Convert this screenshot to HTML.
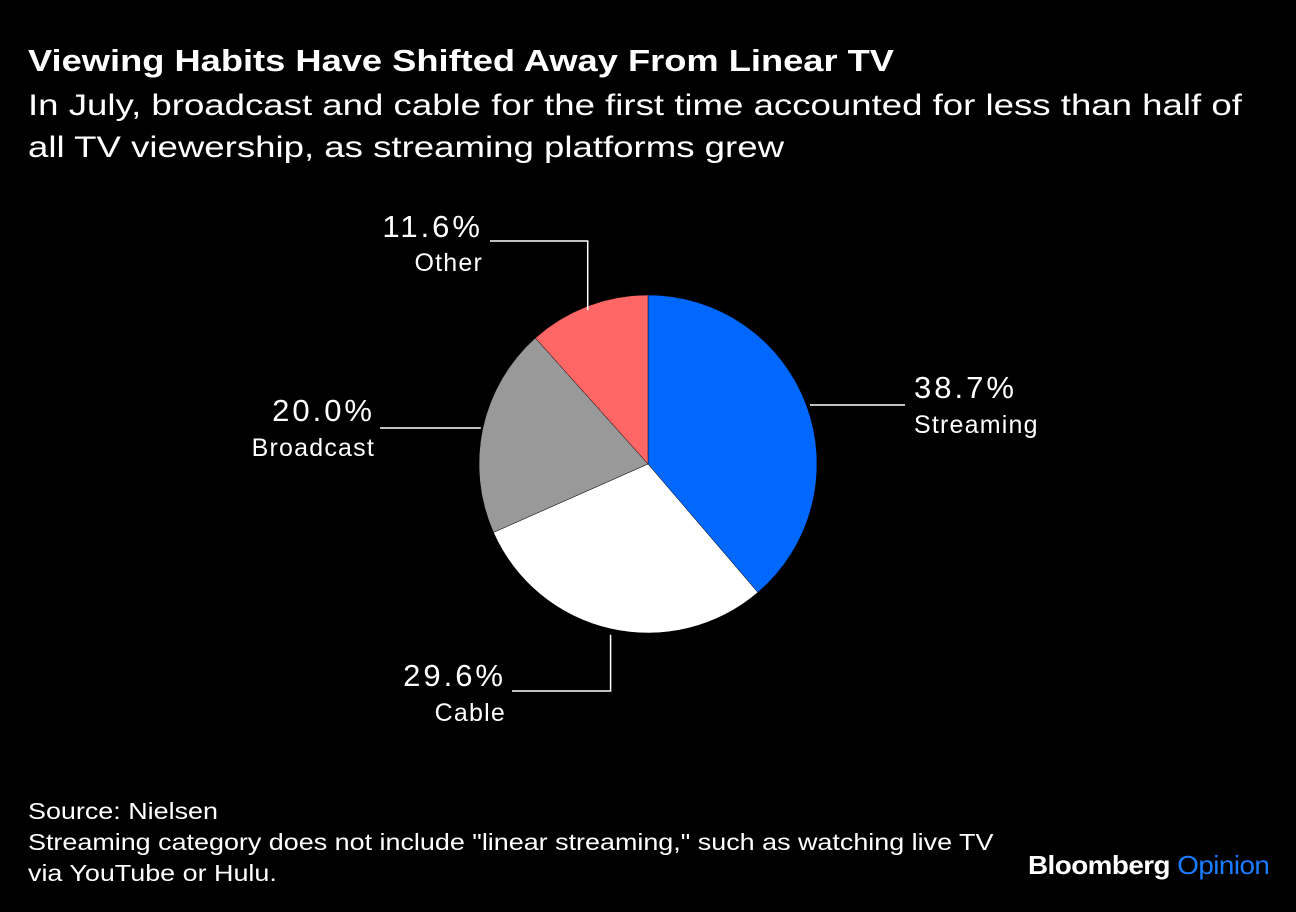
<!DOCTYPE html>
<html><head><meta charset="utf-8"><style>
body{margin:0;background:#000;width:1296px;height:912px;overflow:hidden;font-family:"Liberation Sans",sans-serif;color:#fff}
.t{position:absolute;white-space:nowrap;transform-origin:0 0}
</style></head><body>
<div class="t" style="left:28px;top:43px;font-size:31px;font-weight:bold;transform:scaleX(1.17)">Viewing Habits Have Shifted Away From Linear TV</div>
<div class="t" style="left:28px;top:85px;font-size:30px;line-height:42px;transform:scaleX(1.22)">In July, broadcast and cable for the first time accounted for less than half of<br>all TV viewership, as streaming platforms grew</div>
<svg id="pie" width="1296" height="912" style="position:absolute;left:0;top:0"></svg>
<div class="t" style="left:28px;top:796px;font-size:23px;line-height:31px;transform:scaleX(1.17)">Source: Nielsen<br>Streaming category does not include "linear streaming," such as watching live TV<br>via YouTube or Hulu.</div>
<div class="t" style="left:1028px;top:850px;font-size:26px;font-weight:bold;letter-spacing:-0.5px;transform:scaleX(1.07)">Bloomberg <span style="color:#1a7cff;font-weight:normal">Opinion</span></div>
<script>
const categories=["Streaming","Cable","Broadcast","Other"];
const values=[38.7,29.6,20.0,11.6];
const valueLabels=["38.7%","29.6%","20.0%","11.6%"];
const colors=["#0068ff","#ffffff","#999999","#ff6666"];
const cx=648,cy=464,r=169;
const svg=document.getElementById('pie');
const NS="http://www.w3.org/2000/svg";
const total=values.reduce((a,b)=>a+b,0);
function pt(a,rr){return [cx+rr*Math.sin(a),cy-rr*Math.cos(a)];}
let acc=0;
const mids=[];
values.forEach((v,i)=>{
  const a0=acc/total*2*Math.PI;acc+=v;const a1=acc/total*2*Math.PI;
  mids.push((a0+a1)/2);
  const p0=pt(a0,r),p1=pt(a1,r);
  const p=document.createElementNS(NS,'path');
  p.setAttribute('d',`M${cx},${cy}L${p0[0]},${p0[1]}A${r},${r} 0 ${a1-a0>Math.PI?1:0} 1 ${p1[0]},${p1[1]}Z`);
  p.setAttribute('fill',colors[i]);p.setAttribute('stroke','#000');p.setAttribute('stroke-width','0.5');
  
  
  svg.appendChild(p);
});
function line(pts,name){const l=document.createElementNS(NS,'polyline');l.setAttribute('points',pts.map(p=>p.join(',')).join(' '));l.setAttribute('fill','none');l.setAttribute('stroke','#fff');l.setAttribute('stroke-width','1.5');


svg.appendChild(l);}
function text(x,y,s,big,anchor,name){const t=document.createElementNS(NS,'text');t.setAttribute('x',x);t.setAttribute('y',y);
t.setAttribute('font-size',big?31:25);t.setAttribute('letter-spacing',big?3:1.2);
t.setAttribute('fill','#fff');t.setAttribute('text-anchor',anchor);t.textContent=s;


svg.appendChild(t);}
const e0=pt(mids[0],r);line([[810,405],[905,405]],'leader-streaming');
text(914,398,valueLabels[0],true,'start','value-streaming');text(914,433,categories[0],false,'start','label-streaming');
const e1=pt(mids[1],r);line([[e1[0],e1[1]+6],[e1[0],691],[512,691]],'leader-cable');
text(506,686,valueLabels[1],true,'end','value-cable');text(506,721,categories[1],false,'end','label-cable');
const e2=pt(mids[2],r);line([[e2[0]-2,428],[380,428]],'leader-broadcast');
text(375,421,valueLabels[2],true,'end','value-broadcast');text(375,456,categories[2],false,'end','label-broadcast');
const e3=pt(mids[3],r);line([[e3[0],e3[1]+4],[e3[0],241],[490,241]],'leader-other');
text(483,237,valueLabels[3],true,'end','value-other');text(483,271,categories[3],false,'end','label-other');
</script>
</body></html>
